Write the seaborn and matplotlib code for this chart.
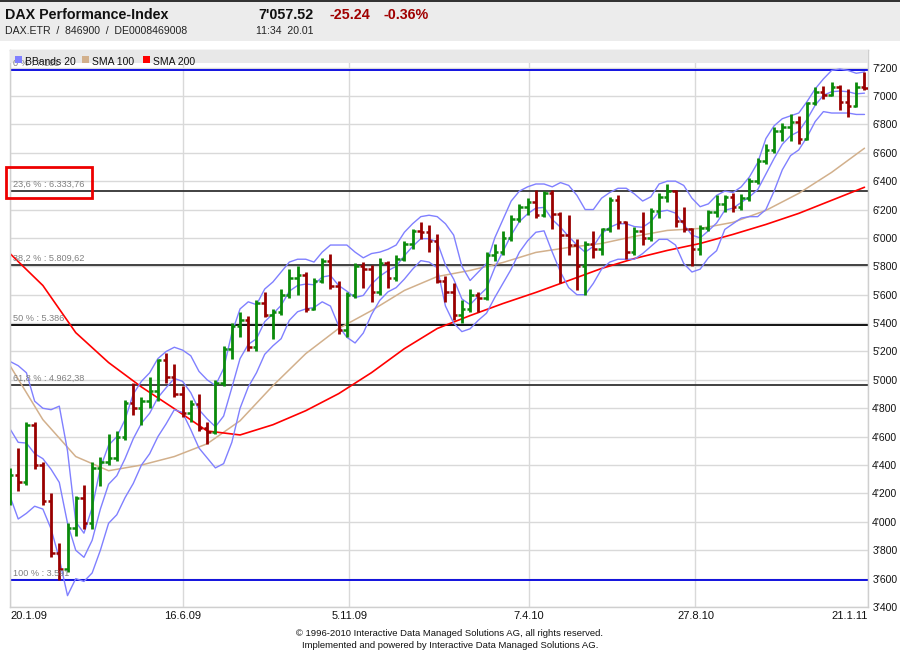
import numpy as np
import pandas as pd
import matplotlib
matplotlib.use("Agg")
import matplotlib.pyplot as plt
from matplotlib.patches import Rectangle
from matplotlib.ticker import FuncFormatter, FixedLocator
import seaborn as sns

# ---------------- data (weekly OHLC) ----------------
start_date = "2009-01-20"
opens = [4240, 4330, 4280, 4680, 4400, 4150, 3780, 3670, 3960, 4170, 3990, 4380, 4420, 4450, 4600,
         4840, 4800, 4850, 4920, 5140, 5020, 4900, 4770, 4830, 4660, 4630, 4980, 5220, 5380, 5420,
         5230, 5540, 5460, 5480, 5600, 5720, 5740, 5500, 5700, 5840, 5660, 5350, 5600, 5800, 5780,
         5620, 5820, 5720, 5850, 5960, 6050, 6040, 5980, 5700, 5620, 5460, 5500, 5600, 5580, 5880,
         5900, 6000, 6130, 6220, 6250, 6160, 6320, 6170, 6020, 5950, 5800, 5960, 5920, 6060, 6270,
         6110, 5900, 6050, 6000, 6190, 6290, 6330, 6120, 6060, 5920, 6070, 6180, 6240, 6290, 6220,
         6280, 6400, 6540, 6620, 6750, 6780, 6820, 6700, 6950, 7030, 7010, 7060, 6960, 6930, 7060]
highs = [4380, 4520, 4700, 4700, 4420, 4200, 3850, 3990, 4180, 4260, 4420, 4460, 4620, 4640, 4860,
         4980, 4880, 5020, 5150, 5190, 5110, 4960, 4860, 4900, 4700, 5000, 5240, 5400, 5480, 5450,
         5560, 5620, 5500, 5640, 5780, 5800, 5760, 5720, 5860, 5890, 5700, 5620, 5820, 5830, 5810,
         5860, 5840, 5880, 5980, 6060, 6110, 6090, 6030, 5730, 5680, 5560, 5640, 5620, 5900, 5960,
         6050, 6160, 6240, 6280, 6340, 6330, 6340, 6180, 6160, 5990, 5980, 6050, 6070, 6290, 6300,
         6120, 6080, 6180, 6210, 6320, 6380, 6340, 6220, 6070, 6090, 6200, 6300, 6300, 6320, 6310,
         6420, 6560, 6660, 6780, 6810, 6870, 6860, 6960, 7060, 7070, 7100, 7080, 7050, 7100, 7170]
lows = [4120, 4220, 4260, 4370, 4120, 3750, 3590, 3650, 3900, 3950, 3950, 4250, 4400, 4430, 4580,
        4750, 4680, 4800, 4850, 4980, 4880, 4740, 4700, 4640, 4550, 4620, 4960, 5150, 5300, 5200,
        5200, 5440, 5290, 5460, 5580, 5600, 5480, 5490, 5680, 5640, 5320, 5300, 5580, 5650, 5550,
        5600, 5650, 5700, 5840, 5920, 5990, 5900, 5680, 5550, 5420, 5400, 5480, 5480, 5560, 5840,
        5880, 5980, 6110, 6160, 6140, 6150, 6060, 5680, 5880, 5630, 5600, 5860, 5880, 6040, 6060,
        5850, 5880, 5950, 5980, 6140, 6250, 6080, 6040, 5800, 5880, 6050, 6150, 6180, 6180, 6200,
        6260, 6380, 6520, 6600, 6680, 6680, 6660, 6690, 6940, 6980, 7000, 6900, 6850, 6920, 7040]
closes = [4330, 4280, 4680, 4400, 4150, 3780, 3670, 3960, 4170, 3990, 4380, 4420, 4450, 4600, 4840,
          4800, 4850, 4920, 5140, 5020, 4900, 4770, 4830, 4660, 4630, 4980, 5220, 5380, 5420, 5230,
          5540, 5460, 5480, 5600, 5720, 5740, 5500, 5700, 5840, 5660, 5350, 5600, 5800, 5780, 5620,
          5820, 5720, 5850, 5960, 6050, 6040, 5980, 5700, 5620, 5460, 5500, 5600, 5580, 5880, 5900,
          6000, 6130, 6220, 6250, 6160, 6320, 6170, 6020, 5950, 5800, 5960, 5920, 6060, 6270, 6110,
          5900, 6050, 6000, 6190, 6290, 6330, 6120, 6060, 5920, 6070, 6180, 6240, 6290, 6220, 6280,
          6400, 6540, 6620, 6750, 6780, 6820, 6700, 6950, 7030, 7010, 7060, 6960, 6930, 7060, 7057]

# Bollinger bands (20)
bb_upper = [5130, 5100, 5050, 4850, 4800, 4790, 4815, 4500, 4000, 3920, 4100, 4380, 4540, 4600, 4720,
            4900, 4990, 5050, 5150, 5200, 5230, 5210, 5170, 5060, 5000, 4960, 5080, 5330, 5500, 5550,
            5530, 5640, 5690, 5760, 5830, 5850, 5850, 5830, 5900, 5950, 5950, 5950, 5900, 5860, 5890,
            5900, 5920, 5950, 6040, 6100, 6150, 6160, 6150, 6100, 6020, 5800, 5700, 5760, 5820, 6000,
            6130, 6260, 6330, 6360, 6380, 6380, 6360, 6390, 6370, 6300, 6200, 6200, 6280, 6320, 6350,
            6350, 6310, 6260, 6290, 6380, 6400, 6400, 6370, 6280, 6220, 6240, 6300, 6330, 6320, 6360,
            6430, 6530, 6700, 6790, 6840, 6860, 6880, 6960, 7050, 7120, 7180, 7190, 7180, 7160, 7170]
bb_lower = [4180, 4020, 4060, 4110, 4090, 3950, 3740, 3480, 3600, 3580, 3640, 3800, 3990, 4050, 4170,
            4270, 4400, 4480, 4600, 4690, 4790, 4770, 4650, 4520, 4450, 4380, 4410, 4560, 4800, 4950,
            5050, 5180, 5240, 5290, 5420, 5480, 5500, 5510, 5550, 5520, 5380, 5300, 5260, 5330, 5460,
            5560, 5620, 5650, 5710, 5780, 5840, 5830, 5790, 5520, 5400, 5340, 5360, 5420, 5470, 5580,
            5680, 5780, 5900, 5980, 6040, 6050, 5900, 5760, 5650, 5600, 5600, 5680, 5780, 5830, 5850,
            5850, 5850, 5890, 5940, 5990, 5990, 5950, 5820, 5760, 5780, 5860, 5910, 6060, 6100, 6140,
            6150, 6150, 6200, 6330, 6480, 6580, 6620, 6710, 6820, 6890, 6880, 6880, 6880, 6870, 6870]

# moving averages, read every 4 weeks
sma_weeks = [0, 4, 8, 12, 16, 20, 24, 28, 32, 36, 40, 44, 48, 52, 56, 60, 64, 68, 72, 76, 80, 84, 88,
             92, 96, 100, 104]
sma100 = [5100, 4720, 4460, 4360, 4400, 4460, 4550, 4712, 4959, 5185, 5362, 5488, 5630, 5728, 5771,
          5827, 5898, 5933, 5961, 6011, 6053, 6067, 6110, 6194, 6314, 6462, 6632]
sma200 = [5890, 5665, 5333, 5122, 4950, 4797, 4640, 4612, 4684, 4783, 4903, 5051, 5220, 5362, 5453,
          5538, 5616, 5700, 5785, 5855, 5912, 5961, 6025, 6095, 6173, 6265, 6357]

tick_dates = ["2009-01-20", "2009-06-16", "2009-11-05", "2010-04-07", "2010-08-27", "2011-01-21"]
tick_labels = ["20.1.09", "16.6.09", "5.11.09", "7.4.10", "27.8.10", "21.1.11"]

fib_pct = ["0", "23,6", "38,2", "50", "61,8", "100"]
fib_values = [7181.0, 6333.76, 5809.62, 5386.0, 4962.38, 3591.0]
fib_texts = ["7.181", "6.333,76", "5.809,62", "5.386", "4.962,38", "3.591"]
fib_colors = ["#0000dd", "#333333", "#333333", "#000000", "#333333", "#0000dd"]

# ---------------- figure ----------------
sns.set_style("white")
plt.rcParams["font.family"] = ["Liberation Sans", "DejaVu Sans"]

W, H = 900, 650
fig = plt.figure(figsize=(W / 100, H / 100), dpi=100)
fig.patch.set_facecolor("white")

def fx(px):
    return px / W

def fy(py):
    return 1 - py / H

# header
fig.add_artist(Rectangle((0, fy(41)), 1, 41 / H, transform=fig.transFigure,
                         facecolor="#ececec", edgecolor="none", zorder=0))
fig.add_artist(Rectangle((0, fy(2)), 1, 2 / H, transform=fig.transFigure,
                         facecolor="#333333", edgecolor="none", zorder=1))
fig.text(fx(5), fy(15), "DAX Performance-Index", fontsize=10.3, fontweight="bold",
         va="center", ha="left", color="#111111")
fig.text(fx(258), fy(15), "7'057.52", fontsize=10.3, fontweight="bold",
         va="center", ha="left", color="#111111")
fig.text(fx(330), fy(15), "-25.24", fontsize=10.3, fontweight="bold", va="center", ha="left",
         color="#a00000")
fig.text(fx(383), fy(15), "-0.36%", fontsize=10.3, fontweight="bold", va="center", ha="left",
         color="#a00000")
fig.text(fx(5), fy(31), "DAX.ETR  /  846900  /  DE0008469008", fontsize=7.6,
         va="center", ha="left", color="#222222")
fig.text(fx(256), fy(31), "11:34  20.01", fontsize=7.6, va="center", ha="left", color="#222222")

# footer
fig.text(0.5, fy(634), "\u00a9 1996-2010 Interactive Data Managed Solutions AG, all rights reserved.",
         fontsize=6.8, ha="center", va="center", color="#111111")
fig.text(0.5, fy(645), "Implemented and powered by Interactive Data Managed Solutions AG.",
         fontsize=6.8, ha="center", va="center", color="#111111")

# main axes
ax_left, ax_right, ax_top, ax_bottom = 10, 868, 50, 607
ax = fig.add_axes([fx(ax_left), fy(ax_bottom), (ax_right - ax_left) / W, (ax_bottom - ax_top) / H])
ax.set_facecolor("white")

start = pd.Timestamp(start_date)
tick_pos = [(pd.Timestamp(d) - start).days / 7.0 for d in tick_dates]
x_max = tick_pos[-1]
ax.set_xlim(0, x_max)
ax.set_ylim(3400, 7324)

# grid
for v in range(3400, 7400, 200):
    ax.axhline(v, color="#d9d9d9", lw=1, zorder=0)
for p in tick_pos:
    ax.axvline(p, color="#d9d9d9", lw=1, zorder=0)

# fibonacci levels
for pct, val, txt, col in zip(fib_pct, fib_values, fib_texts, fib_colors):
    ax.axhline(val, color=col, lw=1.3, zorder=1)
    ax.annotate(f"{pct} % : {txt}", xy=(0, val), xytext=(2, 1.5), textcoords="offset points",
                fontsize=6.6, color="#808080", ha="left", va="bottom", zorder=6)

# moving averages and bands (seaborn)
weeks = np.arange(len(closes))
bb_mid = (np.array(bb_upper) + np.array(bb_lower)) / 2.0
sns.lineplot(x=sma_weeks, y=sma100, color="#d2b08c", lw=1.1, ax=ax, zorder=2)
sns.lineplot(x=sma_weeks, y=sma200, color="#ff0000", lw=1.2, ax=ax, zorder=2)
sns.lineplot(x=weeks, y=bb_upper, color="#8080ff", lw=1.0, ax=ax, zorder=2)
sns.lineplot(x=weeks, y=bb_mid, color="#8080ff", lw=1.0, ax=ax, zorder=2)
sns.lineplot(x=weeks, y=bb_lower, color="#8080ff", lw=1.0, ax=ax, zorder=2)

# OHLC bars
o = np.array(opens); hgh = np.array(highs); low = np.array(lows); c = np.array(closes)
cols = np.where(c >= o, "#0a8a0a", "#990000")
ax.vlines(weeks, low, hgh, colors=cols, lw=2.0, zorder=3)
ax.hlines(o, weeks - 0.42, weeks, colors=cols, lw=1.8, zorder=3)
ax.hlines(c, weeks, weeks + 0.42, colors=cols, lw=1.8, zorder=3)

# legend strip
ax.add_patch(Rectangle((0, 1 - 13 / (ax_bottom - ax_top)), 1, 13 / (ax_bottom - ax_top),
                       transform=ax.transAxes, facecolor="#e8e8e8", edgecolor="none", zorder=5))
leg_items = [("BBands 20", "#8080ff", 15), ("SMA 100", "#d2b08c", 82), ("SMA 200", "#ff0000", 143)]
for label, colr, px in leg_items:
    fig.add_artist(Rectangle((fx(px), fy(63)), 7 / W, 7 / H, transform=fig.transFigure,
                             facecolor=colr, edgecolor="none", zorder=7))
    fig.text(fx(px + 10), fy(62), label, fontsize=7.5, va="center", ha="left", color="#111111", zorder=7)

# axes styling
for s in ax.spines.values():
    s.set_color("#cfcfcf")
    s.set_linewidth(1)
ax.yaxis.tick_right()
ax.yaxis.set_major_locator(FixedLocator(list(range(3400, 7400, 200))))
ax.yaxis.set_major_formatter(FuncFormatter(lambda v, _: f"{v:,.0f}".replace(",", "'")))
ax.tick_params(axis="y", length=0, pad=3, labelsize=7.5, labelcolor="#111111")
ax.xaxis.set_major_locator(FixedLocator(tick_pos))
ax.set_xticklabels(tick_labels)
ax.tick_params(axis="x", length=0, pad=3, labelsize=8, labelcolor="#111111")
labels = ax.get_xticklabels()
labels[0].set_ha("left")
labels[-1].set_ha("right")
ax.set_xlabel("")
ax.set_ylabel("")

# highlight box
fig.add_artist(Rectangle((fx(6), fy(198)), 86 / W, 31 / H, transform=fig.transFigure,
                         fill=False, edgecolor="#ee0000", lw=2, zorder=8))

fig.savefig("out.png", dpi=100)
